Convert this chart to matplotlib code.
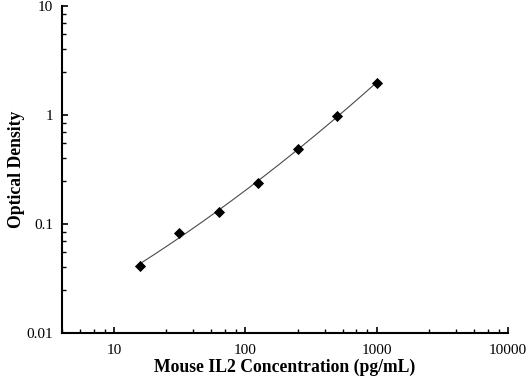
import numpy as np
import matplotlib
matplotlib.use("Agg")
import matplotlib.pyplot as plt
from matplotlib.ticker import FixedLocator, NullFormatter

# Data
concentration = [15.6, 31.25, 62.5, 125, 250, 500, 1000]
optical_density = [0.041, 0.083, 0.129, 0.239, 0.485, 0.986, 1.98]
x_major = [10, 100, 1000, 10000]
x_major_labels = ["10", "100", "1000", "10000"]
y_major = [0.01, 0.1, 1, 10]
y_major_labels = ["0.01", "0.1", "1", "10"]

plt.rcParams['font.family'] = ['Liberation Serif', 'DejaVu Serif']

fig = plt.figure(figsize=(5.27, 3.78), dpi=100)
ax = fig.add_axes([62/527, 45/378, 446/527, 327/378])

# fitted curve (quadratic in log-log space, from the data)
lx = np.log10(concentration)
ly = np.log10(optical_density)
coef = np.polyfit(lx, ly, 2)
xs = np.logspace(lx.min(), lx.max(), 200)
ys = 10 ** np.polyval(coef, np.log10(xs))
ax.plot(xs, ys, color='#4a4a4a', lw=0.8, zorder=2)

ax.plot(concentration, optical_density, linestyle='none', marker='D',
        color='black', markersize=4.8, markeredgewidth=0.6, zorder=3)

ax.set_xscale('log')
ax.set_yscale('log')
ax.set_xlim(4, 10000)
ax.set_ylim(0.01, 10)

ax.xaxis.set_major_locator(FixedLocator(x_major))
ax.yaxis.set_major_locator(FixedLocator(y_major))
ax.set_xticklabels(x_major_labels)
ax.set_yticklabels(y_major_labels)

# Origin-style minor ticks: linear steps of 1.5 within each decade
steps = [2.5, 4, 5.5, 7, 8.5]
ax.xaxis.set_minor_locator(FixedLocator([s * 10**e for e in range(0, 4) for s in steps]))
ax.yaxis.set_minor_locator(FixedLocator([s * 10**e for e in range(-2, 1) for s in steps]))
ax.xaxis.set_minor_formatter(NullFormatter())
ax.yaxis.set_minor_formatter(NullFormatter())

for side in ['top', 'right']:
    ax.spines[side].set_visible(False)
for side in ['left', 'bottom']:
    ax.spines[side].set_linewidth(1.5)
    ax.spines[side].set_color('black')

ax.tick_params(which='major', direction='in', length=4.5, width=1.2, labelsize=11, colors='black')
ax.tick_params(which='minor', direction='in', length=2.6, width=1.0)
ax.tick_params(axis='x', which='major', pad=8.0)
ax.tick_params(axis='y', which='major', pad=6.5)

ax.set_xlabel('Mouse IL2 Concentration (pg/mL)', fontsize=12.7, fontweight='bold')
ax.set_ylabel('Optical Density', fontsize=12.7, fontweight='bold')
ax.xaxis.set_label_coords(0.5, -0.08)
ax.yaxis.set_label_coords(-0.083, 0.5)

fig.savefig('out.png', dpi=100)
